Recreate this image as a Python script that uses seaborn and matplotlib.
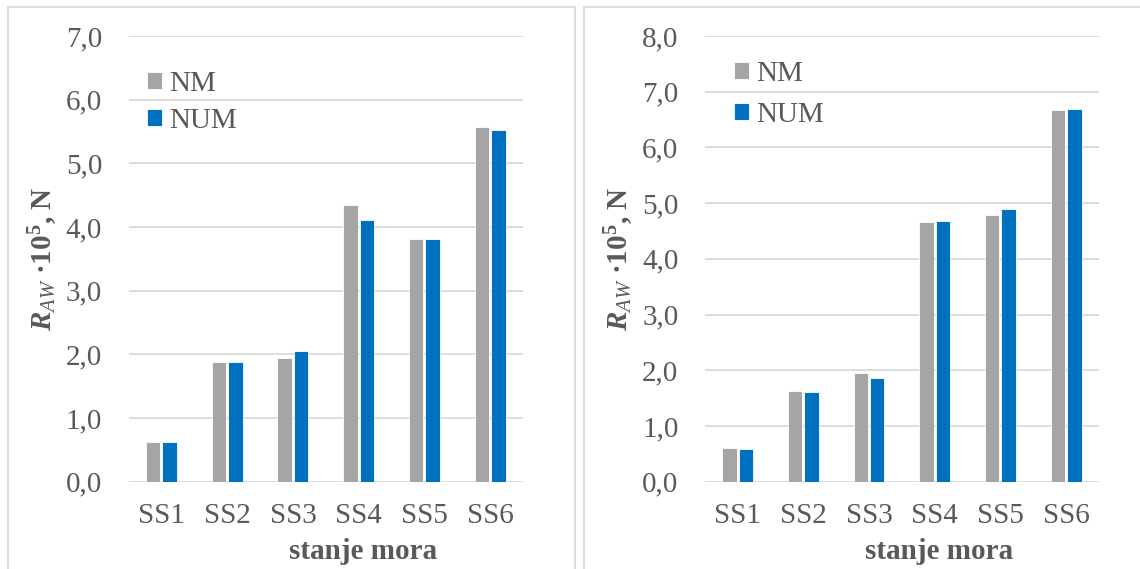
import matplotlib
matplotlib.use("Agg")
import matplotlib.pyplot as plt
from matplotlib.patches import Rectangle
from matplotlib.ticker import FixedLocator, FixedFormatter
import seaborn as sns
import pandas as pd

# ---- data ----
states = ["SS1", "SS2", "SS3", "SS4", "SS5", "SS6"]
series_names = ["NM", "NUM"]
left_nm = [0.62, 1.88, 1.95, 4.35, 3.81, 5.57]
left_num = [0.63, 1.88, 2.05, 4.11, 3.81, 5.53]
right_nm = [0.61, 1.62, 1.95, 4.66, 4.78, 6.67]
right_num = [0.59, 1.61, 1.86, 4.68, 4.90, 6.69]
left_yticks = [0, 1, 2, 3, 4, 5, 6, 7]
left_yticklabels = ["0,0", "1,0", "2,0", "3,0", "4,0", "5,0", "6,0", "7,0"]
right_yticks = [0, 1, 2, 3, 4, 5, 6, 7, 8]
right_yticklabels = ["0,0", "1,0", "2,0", "3,0", "4,0", "5,0", "6,0", "7,0", "8,0"]
xlabel_text = "stanje mora"
colors = {"NM": "#A5A5A5", "NUM": "#0070C0"}

sns.set_theme(style="white")
plt.rcParams["font.family"] = ["Liberation Serif", "DejaVu Serif"]
plt.rcParams["mathtext.fontset"] = "custom"
plt.rcParams["mathtext.rm"] = "Liberation Serif"
plt.rcParams["mathtext.it"] = "Liberation Serif:italic"
plt.rcParams["mathtext.bf"] = "Liberation Serif:bold"
try:
    plt.rcParams["mathtext.bfit"] = "Liberation Serif:italic:bold"
except KeyError:
    pass

W, H = 1140, 569
fig = plt.figure(figsize=(W / 100, H / 100), dpi=100)
TXT = "#595959"
FS = 21

def fx(px):
    return px / W

def fy(py):
    return 1 - py / H

# panel frames
fig.add_artist(Rectangle((fx(8), fy(600)), fx(575.5 - 8), (600 - 7) / H,
                         transform=fig.transFigure, fill=False,
                         edgecolor="#D9D9D9", linewidth=1.3))
fig.add_artist(Rectangle((fx(584), fy(600)), fx(1200 - 584), (600 - 7) / H,
                         transform=fig.transFigure, fill=False,
                         edgecolor="#D9D9D9", linewidth=1.3))

panels = [
    dict(nm=left_nm, num=left_num, left=128.6, right=523.0, top=36.0, ymax=7,
         yt=left_yticks, ytl=left_yticklabels, leg=(147, 71), ls=0.38),
    dict(nm=right_nm, num=right_num, left=704.8, right=1099.0, top=36.0, ymax=8,
         yt=right_yticks, ytl=right_yticklabels, leg=(734, 61), ls=0.52),
]
bottom_px = 481.7

for p in panels:
    ax = fig.add_axes([fx(p["left"]), fy(bottom_px), fx(p["right"] - p["left"]),
                       (bottom_px - p["top"]) / H])
    df = pd.DataFrame({
        "state": states * 2,
        "series": [series_names[0]] * len(states) + [series_names[1]] * len(states),
        "value": list(p["nm"]) + list(p["num"]),
    })
    sns.barplot(data=df, x="state", y="value", hue="series", palette=colors,
                width=0.5, gap=0.12, ax=ax, edgecolor="white", linewidth=0.6,
                saturation=1, zorder=3)
    ax.set_ylim(0, p["ymax"])
    ax.set_xlim(-0.5, len(states) - 0.5)
    ax.yaxis.set_major_locator(FixedLocator(p["yt"]))
    ax.yaxis.set_major_formatter(FixedFormatter(p["ytl"]))
    ax.grid(axis="y", color="#D9D9D9", linewidth=1.3, zorder=0)
    ax.set_axisbelow(True)
    for s in ax.spines.values():
        s.set_visible(False)
    ax.tick_params(axis="y", length=0, pad=19, labelsize=FS, labelcolor=TXT)
    ax.tick_params(axis="x", length=0, pad=15, labelsize=FS, labelcolor=TXT)
    ax.set_xlabel(xlabel_text, fontsize=FS, fontweight="bold", color=TXT)
    ax.xaxis.set_label_coords(0.595, -0.127)
    ax.set_ylabel(r"$\mathbfit{R}_{\mathit{AW}}$ ·10$^{\mathbf{5}}$, N",
                  fontsize=FS, fontweight="bold", color=TXT)
    ax.yaxis.set_label_coords(-0.175, 0.5)
    handles, labels = ax.get_legend_handles_labels()
    ax.get_legend().remove()
    lx, ly = p["leg"]
    ax.legend(handles, labels, loc="upper left",
              bbox_to_anchor=(fx(lx), fy(ly)), bbox_transform=fig.transFigure,
              frameon=False, fontsize=FS, labelcolor=TXT, borderpad=0,
              borderaxespad=0, handlelength=0.52, handleheight=0.52,
              handletextpad=0.25, labelspacing=p["ls"])

fig.savefig("out.png", dpi=100, facecolor="white")
